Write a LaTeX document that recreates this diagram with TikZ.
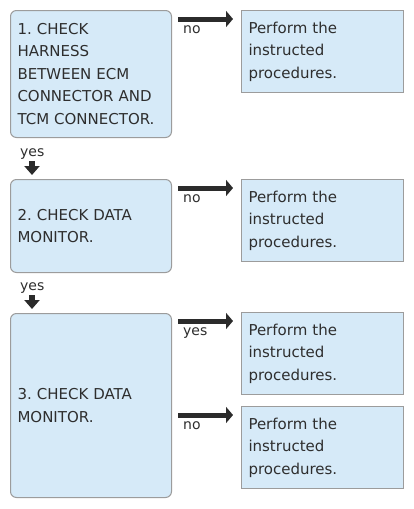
\documentclass[tikz,border=0pt]{standalone}
\usepackage{fontspec}
\setmainfont{DejaVu Sans}
\usetikzlibrary{arrows.meta,calc}
\frenchspacing
\definecolor{boxfill}{HTML}{D6EAF8}
\definecolor{boxdraw}{HTML}{9C9C9C}
\definecolor{ink}{HTML}{2E2E2E}
\definecolor{arrowc}{HTML}{2B2B2B}
\tikzset{
  lbox/.style={draw=boxdraw, fill=boxfill, rounded corners=6pt, line width=1pt,
    anchor=north west, text width=147pt, inner xsep=7pt, inner ysep=0pt, align=left,
    minimum width=161pt, text=ink, font=\fontsize{15}{22.5}\selectfont},
  rbox/.style={draw=boxdraw, fill=boxfill, line width=1pt,
    anchor=north west, text width=148pt, inner xsep=7pt, inner ysep=0pt, align=left,
    minimum width=162pt, minimum height=82pt, text=ink, font=\fontsize{15}{22.5}\selectfont},
  harrow/.style={draw=arrowc, line width=5pt, -{Triangle[length=7pt,width=16pt]}},
  varrow/.style={draw=arrowc, line width=5.5pt, -{Triangle[length=9pt,width=15pt]}},
  lbl/.style={text=ink, font=\fontsize{14}{16}\selectfont, inner sep=0pt, anchor=base west}
}
\begin{document}
\begin{tikzpicture}[x=1pt,y=-1pt]
\fill[white] (0,0) rectangle (413,509);
\useasboundingbox (0,0) rectangle (413,509);
% left boxes
\node[lbox, minimum height=127pt] (b1) at (10,10) {1. CHECK\\HARNESS\\BETWEEN ECM\\CONNECTOR AND\\TCM CONNECTOR.};
\node[lbox, minimum height=93pt] (b2) at (10,179) {2. CHECK DATA\\MONITOR.};
\node[lbox, minimum height=184pt] (b3) at (10,313) {3. CHECK DATA\\MONITOR.};
% right boxes
\node[rbox] (r1) at (241,10) {Perform the\\instructed\\procedures.};
\node[rbox] (r2) at (241,179) {Perform the\\instructed\\procedures.};
\node[rbox] (r3) at (241,312) {Perform the\\instructed\\procedures.};
\node[rbox] (r4) at (241,406) {Perform the\\instructed\\procedures.};
% horizontal arrows
\coordinate (e1) at ($(r1.north west)+(-8,9)$);
\coordinate (e2) at ($(r2.north west)+(-8,9)$);
\coordinate (e3) at ($(r3.north west)+(-8,9)$);
\coordinate (e4) at ($(r4.north west)+(-8,9)$);
\coordinate (s1) at ($(b1.east |- e1)+(6,0)$);
\coordinate (s2) at ($(b2.east |- e2)+(6,0)$);
\coordinate (s3) at ($(b3.east |- e3)+(6,0)$);
\coordinate (s4) at ($(b3.east |- e4)+(6,0)$);
\draw[harrow] (s1) -- (e1);
\draw[harrow] (s2) -- (e2);
\draw[harrow] (s3) -- (e3);
\draw[harrow] (s4) -- (e4);
\node[lbl] (n1) at ($(s1)+(5,14)$) {no};
\node[lbl] (n2) at ($(s2)+(5,14)$) {no};
\node[lbl] (n3) at ($(s3)+(5,14)$) {yes};
\node[lbl] (n4) at ($(s4)+(5,14)$) {no};
% vertical arrows
\coordinate (d1s) at ($(b1.south west)+(22,23)$);
\coordinate (d1e) at ($(b2.north west)+(22,-4)$);
\coordinate (d2s) at ($(b2.south west)+(22,22)$);
\coordinate (d2e) at ($(b3.north west)+(22,-4)$);
\draw[varrow] (d1s) -- (d1e);
\draw[varrow] (d2s) -- (d2e);
\node[lbl] (y1) at ($(b1.south west)+(10,18)$) {yes};
\node[lbl] (y2) at ($(b2.south west)+(10,17)$) {yes};
\end{tikzpicture}
\end{document}
